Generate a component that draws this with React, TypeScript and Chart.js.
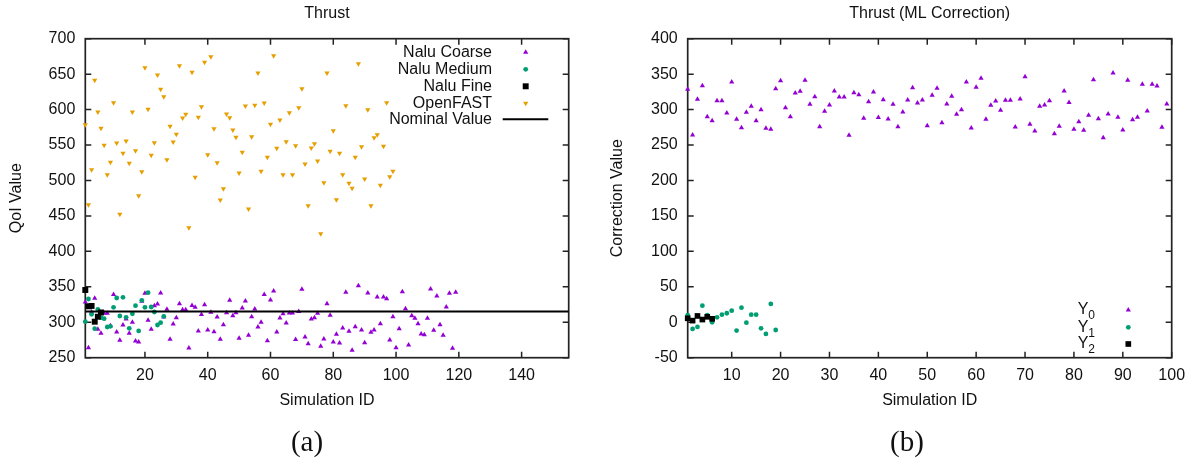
import React, { useEffect, useRef } from 'react';
import { Chart, registerables } from 'chart.js';

Chart.register(...registerables);

const FONT = "'Liberation Sans', Arial, Helvetica, sans-serif";
const PURPLE = '#9400d3';
const GREEN = '#009e73';
const ORANGE = '#e69f00';
const BLACK = '#000000';
const INK = '#111111';

// ---------- Panel (a): Thrust ----------
const naluCoarse = [
  328.6, 264.2, 314.5, 333.7, 290, 284.4, 312.6, 312.6, 295.2, 339,
  286.3, 274.5, 296.2, 304.6, 284.4, 299.9, 273.6, 272.2, 329.5, 340.8,
  302.7, 290, 323.4, 325.8, 341.3, 307.5, 318.2, 275.9, 297.6, 306.5,
  326.2, 317.8, 317.8, 263.8, 323.8, 321, 287.7, 311.1, 324.8, 289,
  314, 286.7, 307.5, 275.9, 296.6, 313.5, 330.9, 309.3, 313.5, 277.3,
  320.2, 330, 281.5, 307.9, 318.8, 293.4, 299.9, 339, 274, 331.5,
  344.1, 286.3, 306, 312.1, 299, 313.1, 313.1, 275.5, 315, 346.4,
  279.2, 269.8, 304.6, 306.5, 312.6, 266, 276.4, 326.2, 309.9, 272.2,
  283, 270.8, 292, 342.2, 287.2, 260.4, 293.8, 351.6, 289.1, 271.2,
  341.3, 285.8, 289.1, 335.7, 298, 335.7, 333.3, 275, 307.9, 264.1,
  290.9, 343.1, 319.1, 267.9, 309.2, 305.6, 298, 283.4, 282.4, 305.6,
  346.9, 288.6, 337, 296.5, 281.6, 321.5, 340.8, 263.2, 342.2,
];

const naluMedium = [
  300.8, 332.8, 311.2, 290.9, 318.3, 306.4, 305, 293.3, 294.3, 321.1,
  334.2, 308.8, 335.2, 307, 291.5, 312, 323.4, 287.7, 331, 321.1,
  341.7, 321.5, 314.5, 296.1, 299.4, 308.4,
];

const naluFine = [345.5, 322.5, 323, 300.8, 307.8, 313.8];

const openFast = [
  578.7, 465.9, 515.2, 641.3, 596.6, 573.6, 549.6, 508.2, 525.7, 609.7,
  552.9, 452.3, 538.4, 555.7, 524.3, 596.6, 542, 478.6, 512.4, 659.1,
  600.4, 535.5, 553.3, 648.8, 628.6, 618.2, 529.3, 576.4, 554.3, 565.2,
  661.9, 588.2, 593.4, 433.4, 652.6, 504.5, 589.1, 604.1, 666.7, 536.4,
  674.6, 573.1, 525.1, 472.5, 488.4, 593.8, 588.6, 571.2, 560.9, 510.6,
  539.8, 605.1, 459.8, 561.8, 606.1, 651.6, 513, 609.3, 532.7, 579.3,
  676, 545.4, 585.3, 508.2, 554.7, 595.6, 508.2, 549.1, 602.7, 629.5,
  523.3, 464.5, 545.8, 551.9, 527.5, 425, 496.9, 651.6, 541.2, 570.2,
  472.9, 538.4, 508.2, 605.5, 496, 489, 532.7, 664.7, 547.7, 502.1,
  599.9, 464.5, 560.4, 564.6, 493.2, 548.2, 609.7, 505.4, 513,
];

const nominalValue = 315;
const leftXRange = [1, 155];
const leftXTicks = [20, 40, 60, 80, 100, 120, 140];
const leftYTicks = [250, 300, 350, 400, 450, 500, 550, 600, 650, 700];

// ---------- Panel (b): Thrust (ML Correction) ----------
const y0Values = [
  328.6, 264.2, 314.5, 333.7, 290, 284.4, 312.6, 312.6, 295.2, 339,
  286.3, 274.5, 296.2, 304.6, 284.4, 299.9, 273.6, 272.2, 329.5, 340.8,
  302.7, 290, 323.4, 325.8, 341.3, 307.5, 318.2, 275.9, 297.6, 306.5,
  326.2, 317.8, 317.8, 263.8, 323.8, 321, 287.7, 311.1, 324.8, 289,
  314, 286.7, 307.5, 275.9, 296.6, 313.5, 330.9, 309.3, 313.5, 277.3,
  320.2, 330, 281.5, 307.9, 318.8, 293.4, 299.9, 339, 274, 331.5,
  344.1, 286.3, 306, 312.1, 299, 313.1, 313.1, 275.5, 315, 346.4,
  279.2, 269.8, 304.6, 306.5, 312.6, 266, 276.4, 326.2, 309.9, 272.2,
  283, 270.8, 292, 342.2, 287.2, 260.4, 293.8, 351.6, 289.1, 271.2,
  341.3, 285.8, 289.1, 335.7, 298, 335.7, 333.3, 275, 307.9,
];

const y1Values = [
  9.9, -9.4, -6.6, 23.4, 9.9, 0, 7, 10.7, 12.7, 16.4,
  -11.8, 20.6, -0.6, 10.7, 10.7, -8.5, -16.5, 25.8, -10.9,
];

const y2Values = [5.6, 2.3, 8.9, 3.8, 7.7, 4.8];

const rightXRange = [1, 100];
const rightXTicks = [10, 20, 30, 40, 50, 60, 70, 80, 90, 100];
const rightYTicks = [-50, 0, 50, 100, 150, 200, 250, 300, 350, 400];

const toPoints = (vals: number[]) => vals.map((v, i) => ({ x: i + 1, y: v }));

type Kind = 'tri' | 'dtri' | 'circle' | 'rect' | 'line';

function drawMarker(ctx: CanvasRenderingContext2D, kind: Kind, x: number, y: number, r: number, color: string) {
  ctx.save();
  ctx.fillStyle = color;
  ctx.strokeStyle = color;
  ctx.beginPath();
  if (kind === 'tri') {
    ctx.moveTo(x, y - r);
    ctx.lineTo(x + 0.866 * r, y + 0.5 * r);
    ctx.lineTo(x - 0.866 * r, y + 0.5 * r);
    ctx.closePath();
    ctx.fill();
  } else if (kind === 'dtri') {
    ctx.moveTo(x, y + r);
    ctx.lineTo(x + 0.866 * r, y - 0.5 * r);
    ctx.lineTo(x - 0.866 * r, y - 0.5 * r);
    ctx.closePath();
    ctx.fill();
  } else if (kind === 'circle') {
    ctx.arc(x, y, r, 0, Math.PI * 2);
    ctx.fill();
  } else if (kind === 'rect') {
    const s = r * Math.SQRT1_2;
    ctx.rect(x - s, y - s, 2 * s, 2 * s);
    ctx.fill();
  }
  ctx.restore();
}

interface LegendEntry {
  label: string;
  sub?: string;
  kind: Kind;
  color: string;
  r: number;
  y: number;
}

interface FrameCfg {
  title: string;
  titleY: number;
  textRight: number;
  symX: number;
  lineX0?: number;
  lineX1?: number;
  legend: LegendEntry[];
}

function makeFramePlugin(cfg: FrameCfg) {
  return {
    id: 'gnuFrame',
    beforeDatasetsDraw(chart: any) {
      const { ctx, chartArea: a, scales } = chart;
      ctx.save();
      ctx.strokeStyle = '#222';
      ctx.lineWidth = 1.5;
      const tl = 6;
      ctx.beginPath();
      for (const t of scales.x.ticks) {
        const px = scales.x.getPixelForValue(t.value);
        ctx.moveTo(px, a.bottom);
        ctx.lineTo(px, a.bottom - tl);
        ctx.moveTo(px, a.top);
        ctx.lineTo(px, a.top + tl);
      }
      for (const t of scales.y.ticks) {
        const py = scales.y.getPixelForValue(t.value);
        ctx.moveTo(a.left, py);
        ctx.lineTo(a.left + tl, py);
        ctx.moveTo(a.right, py);
        ctx.lineTo(a.right - tl, py);
      }
      ctx.stroke();
      ctx.lineWidth = 1.7;
      ctx.strokeRect(a.left, a.top, a.right - a.left, a.bottom - a.top);
      ctx.restore();
    },
    afterDraw(chart: any) {
      const { ctx, chartArea: a } = chart;
      ctx.save();
      ctx.fillStyle = INK;
      ctx.font = `16px ${FONT}`;
      ctx.textAlign = 'center';
      ctx.textBaseline = 'middle';
      ctx.fillText(cfg.title, (a.left + a.right) / 2, cfg.titleY);

      for (const e of cfg.legend) {
        ctx.fillStyle = INK;
        ctx.textBaseline = 'middle';
        if (e.sub) {
          ctx.font = `12px ${FONT}`;
          const sw = ctx.measureText(e.sub).width;
          ctx.textAlign = 'right';
          ctx.fillText(e.sub, cfg.textRight, e.y + 6);
          ctx.font = `16px ${FONT}`;
          ctx.fillText(e.label, cfg.textRight - sw, e.y);
        } else {
          ctx.font = `16px ${FONT}`;
          ctx.textAlign = 'right';
          ctx.fillText(e.label, cfg.textRight, e.y);
        }
        if (e.kind === 'line') {
          ctx.strokeStyle = e.color;
          ctx.lineWidth = 2;
          ctx.beginPath();
          ctx.moveTo(cfg.lineX0 ?? cfg.symX - 20, e.y);
          ctx.lineTo(cfg.lineX1 ?? cfg.symX + 20, e.y);
          ctx.stroke();
        } else {
          drawMarker(ctx, e.kind, cfg.symX, e.y, e.r, e.color);
        }
      }
      ctx.restore();
    },
  };
}

function scatterSet(label: string, vals: number[], style: string, color: string, r: number, order: number, rotation = 0) {
  return {
    label,
    data: toPoints(vals),
    pointStyle: style,
    pointRotation: rotation,
    pointRadius: r,
    pointBorderWidth: 0,
    backgroundColor: color,
    borderColor: color,
    showLine: false,
    order,
    clip: false as any,
  };
}

function makeScales(xRange: number[], xTicks: number[], yRange: number[], yTicks: number[], yTitle: string, yAxisWidth: number, yTitlePad: number) {
  const tickFont = { family: FONT, size: 16 };
  return {
    x: {
      type: 'linear',
      min: xRange[0],
      max: xRange[1],
      afterBuildTicks: (s: any) => {
        s.ticks = xTicks.map((v) => ({ value: v }));
      },
      afterFit: (s: any) => {
        s.height = 52;
      },
      grid: { display: false, drawTicks: false },
      border: { display: false },
      ticks: { font: tickFont, color: INK, padding: 8, autoSkip: false, maxRotation: 0, callback: (v: any) => String(v) },
      title: { display: true, text: 'Simulation ID', font: { family: FONT, size: 16 }, color: INK, padding: { top: 0, bottom: 0 } },
    },
    y: {
      type: 'linear',
      min: yRange[0],
      max: yRange[1],
      afterBuildTicks: (s: any) => {
        s.ticks = yTicks.map((v) => ({ value: v }));
      },
      afterFit: (s: any) => {
        s.width = yAxisWidth;
      },
      grid: { display: false, drawTicks: false },
      border: { display: false },
      ticks: { font: tickFont, color: INK, padding: 10, autoSkip: false, callback: (v: any) => String(v) },
      title: { display: true, text: yTitle, font: { family: FONT, size: 16 }, color: INK, padding: { top: yTitlePad, bottom: 0 } },
    },
  };
}

export default function App() {
  const leftRef = useRef<HTMLCanvasElement>(null);
  const rightRef = useRef<HTMLCanvasElement>(null);

  useEffect(() => {
    const leftChart = new Chart(leftRef.current as HTMLCanvasElement, {
      type: 'scatter',
      data: {
        datasets: [
          {
            label: 'Nominal Value',
            data: [
              { x: leftXRange[0], y: nominalValue },
              { x: leftXRange[1], y: nominalValue },
            ],
            showLine: true,
            borderColor: BLACK,
            borderWidth: 2,
            pointRadius: 0,
            order: 1,
          } as any,
          scatterSet('OpenFAST', openFast, 'triangle', ORANGE, 3, 2, 180),
          scatterSet('Nalu Fine', naluFine, 'rect', BLACK, 4.2, 3),
          scatterSet('Nalu Medium', naluMedium, 'circle', GREEN, 2.4, 4),
          scatterSet('Nalu Coarse', naluCoarse, 'triangle', PURPLE, 3, 5),
        ],
      },
      options: {
        animation: false,
        responsive: true,
        maintainAspectRatio: false,
        devicePixelRatio: 1,
        layout: { padding: { top: 38.7, right: 21.3, bottom: 56.3, left: 0 } },
        plugins: { legend: { display: false }, tooltip: { enabled: false }, title: { display: false } },
        scales: makeScales(leftXRange, leftXTicks, [250, 700], leftYTicks, 'QoI Value', 85.3, 6.7) as any,
      },
      plugins: [
        makeFramePlugin({
          title: 'Thrust',
          titleY: 14,
          textRight: 492,
          symX: 525.7,
          lineX0: 502.7,
          lineX1: 548.3,
          legend: [
            { label: 'Nalu Coarse', kind: 'tri', color: PURPLE, r: 3, y: 52.3 },
            { label: 'Nalu Medium', kind: 'circle', color: GREEN, r: 2.4, y: 69.3 },
            { label: 'Nalu Fine', kind: 'rect', color: BLACK, r: 4.2, y: 86.3 },
            { label: 'OpenFAST', kind: 'dtri', color: ORANGE, r: 3, y: 103.3 },
            { label: 'Nominal Value', kind: 'line', color: BLACK, r: 0, y: 119.3 },
          ],
        }) as any,
      ],
    });

    const rightChart = new Chart(rightRef.current as HTMLCanvasElement, {
      type: 'scatter',
      data: {
        datasets: [
          scatterSet('Y2', y2Values, 'rect', BLACK, 4, 1),
          scatterSet('Y1', y1Values, 'circle', GREEN, 2.4, 2),
          scatterSet('Y0', y0Values, 'triangle', PURPLE, 3, 3),
        ],
      },
      options: {
        animation: false,
        responsive: true,
        maintainAspectRatio: false,
        devicePixelRatio: 1,
        layout: { padding: { top: 38.7, right: 23.3, bottom: 56.3, left: 0 } },
        plugins: { legend: { display: false }, tooltip: { enabled: false }, title: { display: false } },
        scales: makeScales(rightXRange, rightXTicks, [-50, 400], rightYTicks, 'Correction Value', 97.7, 18.4) as any,
      },
      plugins: [
        makeFramePlugin({
          title: 'Thrust (ML Correction)',
          titleY: 14,
          textRight: 505,
          symX: 538.3,
          legend: [
            { label: 'Y', sub: '0', kind: 'tri', color: PURPLE, r: 3, y: 310 },
            { label: 'Y', sub: '1', kind: 'circle', color: GREEN, r: 2.4, y: 327.3 },
            { label: 'Y', sub: '2', kind: 'rect', color: BLACK, r: 4, y: 344 },
          ],
        }) as any,
      ],
    });

    return () => {
      leftChart.destroy();
      rightChart.destroy();
    };
  }, []);

  const capStyle: React.CSSProperties = {
    position: 'absolute',
    top: 424,
    width: 100,
    textAlign: 'center',
    fontFamily: "'Liberation Serif', 'Times New Roman', serif",
    fontSize: 29,
    lineHeight: '34px',
    color: INK,
  };

  return (
    <div style={{ position: 'absolute', left: 0, top: 0, width: 1195, height: 466, background: '#fff' }}>
      <div style={{ position: 'absolute', left: 0, top: 0, width: 590, height: 466 }}>
        <canvas ref={leftRef} />
      </div>
      <div style={{ position: 'absolute', left: 590, top: 0, width: 605, height: 466 }}>
        <canvas ref={rightRef} />
      </div>
      <div style={{ ...capStyle, left: 257 }}>(a)</div>
      <div style={{ ...capStyle, left: 857 }}>(b)</div>
    </div>
  );
}
